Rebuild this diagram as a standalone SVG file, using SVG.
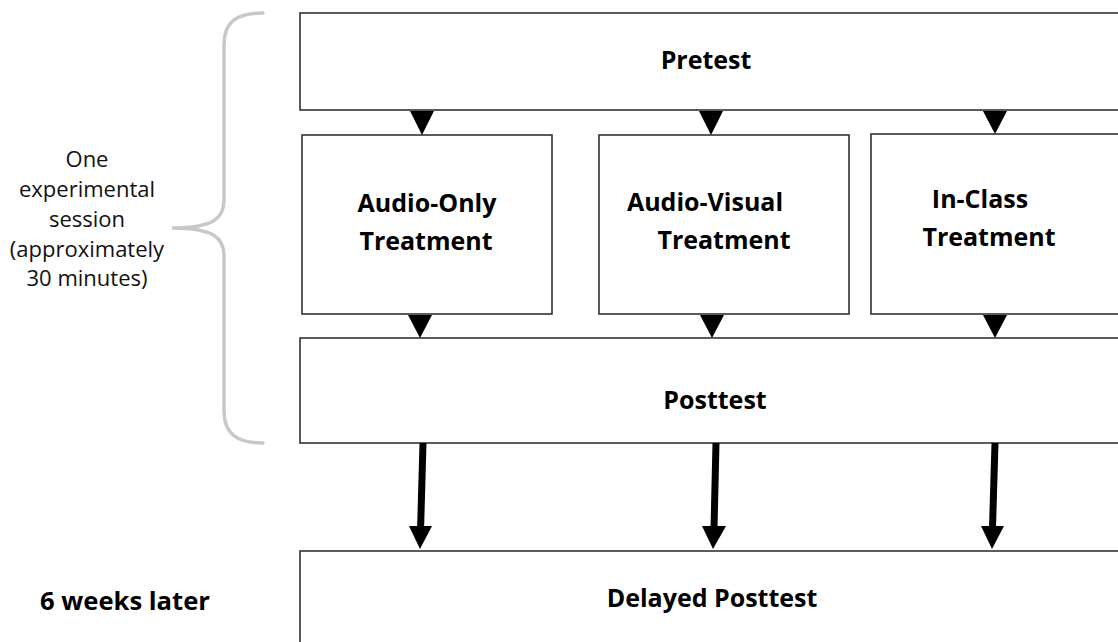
<svg xmlns="http://www.w3.org/2000/svg" width="1118" height="642" viewBox="0 0 1118 642">
  <style>
    .box { fill: #ffffff; stroke: #333333; stroke-width: 1.6; }
    .lbl { font-family: "Open Sans", "Liberation Sans", sans-serif; font-weight: bold; font-size: 25px; fill: #000000; text-anchor: middle; }
    .note { font-family: "Open Sans", "Liberation Sans", sans-serif; font-size: 22px; fill: #111111; text-anchor: middle; }
    .head { fill: #000000; }
    .shaft { stroke: #000000; stroke-width: 7; fill: none; }
    .brace { fill: none; stroke: #c8c8c8; stroke-width: 3.5; stroke-linecap: round; }
  </style>
  <rect width="1118" height="642" fill="#ffffff"/>

  <!-- session brace and note -->
  <g id="session-note">
    <path class="brace" d="M263,13 C236,13 224,22 224,45 L224,200 C224,218 214,228 172,228 C214,228 224,238 224,256 L224,411 C224,433 236,443 263,443"/>
    <text class="note" x="87" y="167">One</text>
    <text class="note" x="87" y="197">experimental</text>
    <text class="note" x="87" y="227">session</text>
    <text class="note" x="87" y="257">(approximately</text>
    <text class="note" x="87" y="286">30 minutes)</text>
  </g>

  <g id="delay-note">
    <text class="lbl" x="125" y="610" textLength="170" lengthAdjust="spacingAndGlyphs">6 weeks later</text>
  </g>

  <g id="pretest">
    <rect class="box" x="300" y="13" width="830" height="97"/>
    <text class="lbl" x="706" y="69">Pretest</text>
  </g>

  <g id="audio-only">
    <rect class="box" x="302" y="135" width="250" height="179"/>
    <text class="lbl" x="427" y="212">Audio-Only</text>
    <text class="lbl" x="426" y="250">Treatment</text>
  </g>

  <g id="audio-visual">
    <rect class="box" x="599" y="135" width="250" height="179"/>
    <text class="lbl" x="705" y="211">Audio-Visual</text>
    <text class="lbl" x="724" y="249">Treatment</text>
  </g>

  <g id="in-class">
    <rect class="box" x="871" y="134" width="260" height="180"/>
    <text class="lbl" x="980" y="208">In-Class</text>
    <text class="lbl" x="989" y="246">Treatment</text>
  </g>

  <g id="posttest">
    <rect class="box" x="300" y="338" width="830" height="105"/>
    <text class="lbl" x="715" y="409">Posttest</text>
  </g>

  <g id="delayed-posttest">
    <rect class="box" x="300" y="551" width="830" height="100"/>
    <text class="lbl" x="712" y="607">Delayed Posttest</text>
  </g>

  <!-- connectors -->
  <g id="connectors">
    <!-- pretest to treatments -->
    <polygon class="head" points="410,111 434,111 422,135"/>
    <polygon class="head" points="699,111 723,111 711,135"/>
    <polygon class="head" points="983,111 1007,111 995,134"/>
    <!-- treatments to posttest -->
    <polygon class="head" points="408,315 432,315 420,338"/>
    <polygon class="head" points="700,315 724,315 712,338"/>
    <polygon class="head" points="983,315 1007,315 995,338"/>
    <!-- posttest to delayed posttest -->
    <line class="shaft" x1="423" y1="443" x2="420.6" y2="528"/>
    <polygon class="head" points="409,526 432,526 420,549"/>
    <line class="shaft" x1="716" y1="443" x2="714" y2="528"/>
    <polygon class="head" points="702,526 726,526 713,549"/>
    <line class="shaft" x1="995" y1="443" x2="992.5" y2="528"/>
    <polygon class="head" points="981,526 1004,526 992,549"/>
  </g>
</svg>
